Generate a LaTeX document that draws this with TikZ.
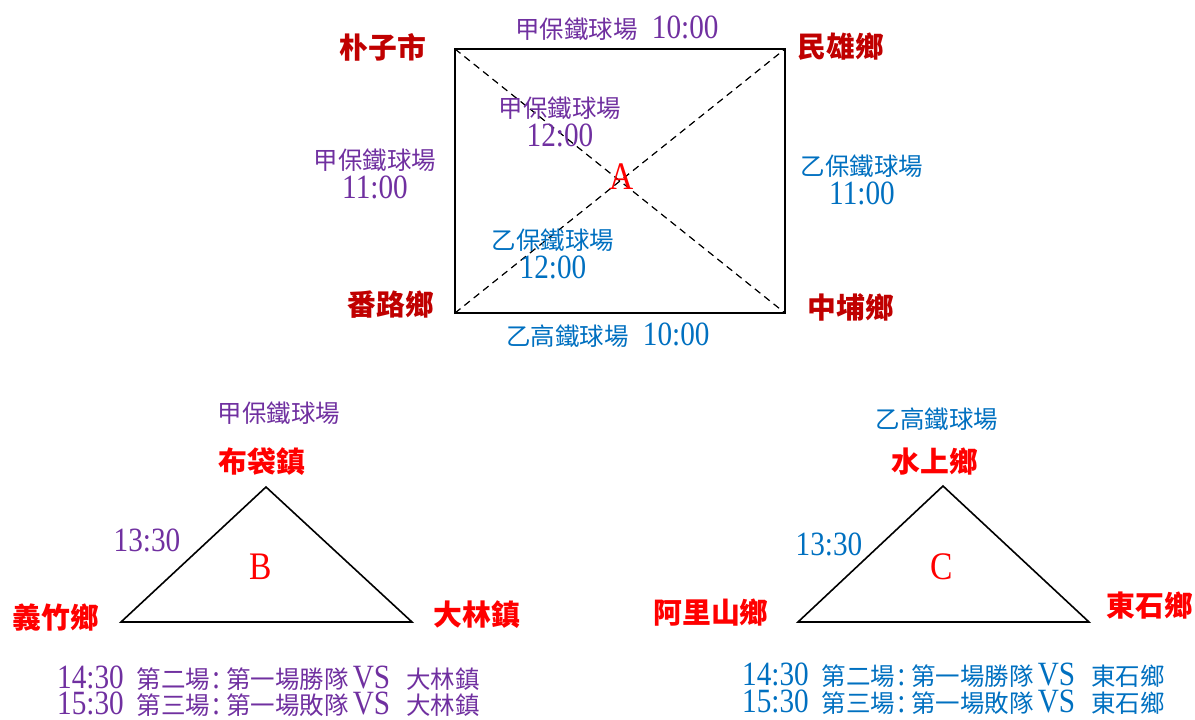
\documentclass[tikz,border=0pt]{standalone}
\usepackage{fontspec}
\setmainfont{Liberation Serif}[FakeStretch=0.86]
\newfontfamily\cjk{Noto Sans CJK TC}[Scale=0.72]
\newcommand\zh[1]{{\cjk #1}}
\definecolor{darkred}{HTML}{C00000}
\definecolor{townred}{HTML}{FF0000}
\definecolor{jiapurple}{HTML}{7030A0}
\definecolor{yiblue}{HTML}{0070C0}
\begin{document}
\begin{tikzpicture}[x=1pt,y=-1pt,
  town/.style={font=\fontsize{40}{40}\selectfont\bfseries},
  lbl/.style={font=\fontsize{34}{29}\selectfont,align=center},
  game/.style={font=\fontsize{34}{27}\selectfont,anchor=west,inner sep=0pt,text height=19pt,text depth=5pt},
  grp/.style={font=\fontsize{39}{40}\selectfont,text=townred},
  edge/.style={line width=1.6pt},
  diag/.style={line width=1.2pt,dash pattern=on 7pt off 5pt}]
\useasboundingbox (0,0) rectangle (1195,720);
\coordinate (nw) at (455,49);
\coordinate (ne) at (785,49);
\coordinate (se) at (785,313);
\coordinate (sw) at (455,313);
\draw[edge] (nw) -- (ne) -- (se) -- (sw) -- cycle;
\draw[diag] (nw) -- (se);
\draw[diag] (sw) -- (ne);
\node[grp] (a) at (622,177) {A};
\node[town,text=darkred] (puzi) at (383,47) {\zh{朴子市}};
\node[town,text=darkred] (minxiong) at (841,47) {\zh{民雄鄉}};
\node[town,text=darkred] (fanlu) at (391,305) {\zh{番路鄉}};
\node[town,text=darkred] (zhongpu) at (851,307) {\zh{中埔鄉}};
\node[lbl,text=jiapurple] (top) at (617,28) {\zh{甲保鐵球場}\hspace{14pt}10:00};
\node[lbl,text=jiapurple] (inup) at (560,122) {\zh{甲保鐵球場}\\12:00};
\node[lbl,text=jiapurple] (left) at (375,174) {\zh{甲保鐵球場}\\11:00};
\node[lbl,text=yiblue] (right) at (862,180) {\zh{乙保鐵球場}\\11:00};
\node[lbl,text=yiblue] (indown) at (553,254) {\zh{乙保鐵球場}\\12:00};
\node[lbl,text=yiblue] (bottom) at (608,335) {\zh{乙高鐵球場}\hspace{14pt}10:00};

\coordinate (bt) at (266,487);
\coordinate (bl) at (121,622);
\coordinate (br) at (412,622);
\draw[edge,line join=miter] (bt) -- (br) -- (bl) -- cycle;
\node[grp] (b) at (261,567) {B};
\node[lbl,text=jiapurple] (bvenue) at (279,413) {\zh{甲保鐵球場}};
\node[town,text=townred] (budai) at (262,462) {\zh{布袋鎮}};
\node[town,text=townred] (yizhu) at (56,618) {\zh{義竹鄉}};
\node[town,text=townred] (dalin) at (477,615) {\zh{大林鎮}};
\node[lbl,text=jiapurple] (btime) at (147,540) {13:30};
\node[game,text=jiapurple] (bgame2) at (57,681)
  {14:30\hspace{13pt}\zh{第二場}\hspace{2pt}:\hspace{6pt}\zh{第一場勝隊}\hspace{4pt}VS\hspace{16pt}\zh{大林鎮}};
\node[game,text=jiapurple] (bgame3) at (57,707)
  {15:30\hspace{13pt}\zh{第三場}\hspace{2pt}:\hspace{6pt}\zh{第一場敗隊}\hspace{4pt}VS\hspace{16pt}\zh{大林鎮}};

\coordinate (ct) at (943,486);
\coordinate (cl) at (798,622);
\coordinate (cr) at (1089,622);
\draw[edge,line join=miter] (ct) -- (cr) -- (cl) -- cycle;
\node[grp] (c) at (942,567) {C};
\node[lbl,text=yiblue] (cvenue) at (937,419) {\zh{乙高鐵球場}};
\node[town,text=townred] (shuishang) at (935,462) {\zh{水上鄉}};
\node[town,text=townred] (alishan) at (711,613) {\zh{阿里山鄉}};
\node[town,text=townred] (dongshi) at (1150,606) {\zh{東石鄉}};
\node[lbl,text=yiblue] (ctime) at (829,544) {13:30};
\node[game,text=yiblue] (cgame2) at (742,678)
  {14:30\hspace{13pt}\zh{第二場}\hspace{2pt}:\hspace{6pt}\zh{第一場勝隊}\hspace{4pt}VS\hspace{16pt}\zh{東石鄉}};
\node[game,text=yiblue] (cgame3) at (742,705)
  {15:30\hspace{13pt}\zh{第三場}\hspace{2pt}:\hspace{6pt}\zh{第一場敗隊}\hspace{4pt}VS\hspace{16pt}\zh{東石鄉}};
\end{tikzpicture}
\end{document}
